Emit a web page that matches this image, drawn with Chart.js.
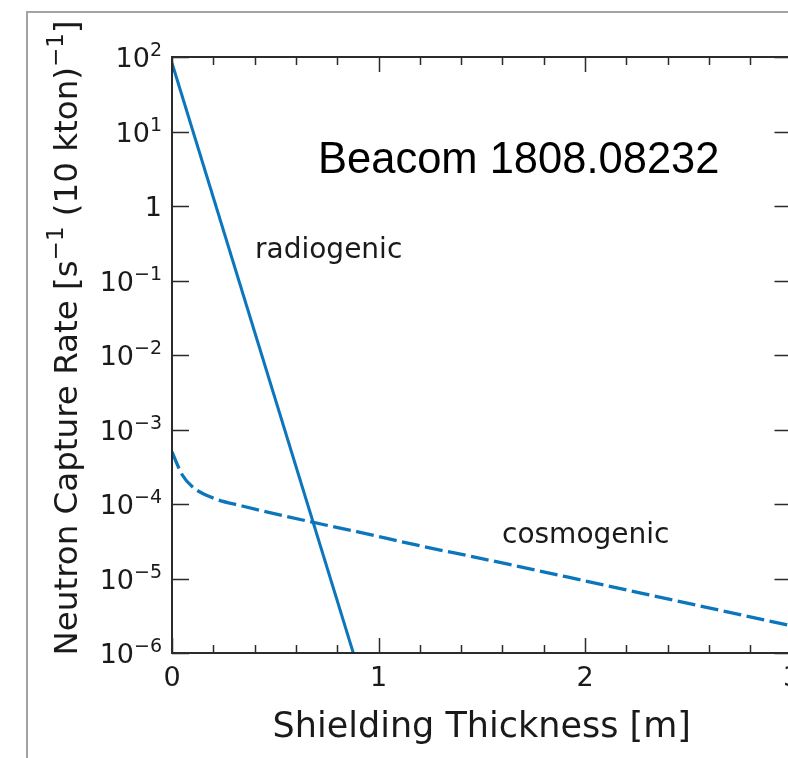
<!DOCTYPE html>
<html>
<head>
<meta charset="utf-8">
<script src="https://cdn.jsdelivr.net/npm/chart.js@4"></script>
<style>
  html, body { margin: 0; padding: 0; background: #fff; overflow: hidden; }
  #wrap { width: 788px; height: 758px; overflow: hidden; position: relative; }
  canvas { display: block; }
</style>
</head>
<body>
<div id="wrap"><canvas id="c" width="820" height="758"></canvas></div>
<script>
// ---- data ----
const radiogenicX = [0, 0.878];
const radiogenicY = [83, 1e-6];
const cosmogenicX = [0, 0.05, 0.10, 0.20, 0.34, 0.68, 0.90, 1.20, 1.50, 2.00, 2.50, 3.00];
const cosmogenicY = [5.0e-4, 2.45e-4, 1.69e-4, 1.20e-4, 9.4e-5, 5.7e-5, 4.23e-5, 2.75e-5, 1.85e-5, 9.3e-6, 4.63e-6, 2.32e-6];
const xTickValues = [0, 1, 2, 3];
const xTickLabels = ['0', '1', '2', '3'];
const xMinorTicks = [0.2, 0.4, 0.6, 0.8, 1.2, 1.4, 1.6, 1.8, 2.2, 2.4, 2.6, 2.8];
const yTickValues = [1e-6, 1e-5, 1e-4, 1e-3, 1e-2, 1e-1, 1, 1e1, 1e2];
const yTickMantissa = ['10', '10', '10', '10', '10', '10', '1', '10', '10'];
const yTickExponent = ['−6', '−5', '−4', '−3', '−2', '−1', '', '1', '2'];
const labelRadiogenic = 'radiogenic';
const labelCosmogenic = 'cosmogenic';
const labelNote = 'Beacom 1808.08232';
const xTitle = 'Shielding Thickness [m]';
// y title pieces: [text, isSuperscript]
const yTitleParts = [['Neutron Capture Rate [s', false], ['−1', true], [' (10 kton)', false], ['−1', true], [']', false]];

const lineColor = '#0c76bd';
const textColor = '#1a1a1a';
const toPts = (xs, ys) => xs.map((x, i) => ({ x: x, y: ys[i] }));

function drawRich(ctx, parts, size, supSize, supRaise, x, y, align) {
  const widths = parts.map(p => {
    ctx.font = (p[1] ? supSize : size) + 'px "DejaVu Sans"';
    return ctx.measureText(p[0]).width;
  });
  const total = widths.reduce((a, b) => a + b, 0);
  let cx = align === 'right' ? x - total : align === 'center' ? x - total / 2 : x;
  ctx.textAlign = 'left';
  ctx.textBaseline = 'alphabetic';
  parts.forEach((p, i) => {
    ctx.font = (p[1] ? supSize : size) + 'px "DejaVu Sans"';
    ctx.fillText(p[0], cx, p[1] ? y - supRaise : y);
    cx += widths[i];
  });
}

const decorPlugin = {
  id: 'decor',
  beforeDraw(chart) {
    const ctx = chart.ctx;
    ctx.save();
    ctx.strokeStyle = '#a3a3a3';
    ctx.lineWidth = 2;
    ctx.beginPath();
    ctx.moveTo(27, 800);
    ctx.lineTo(27, 12);
    ctx.lineTo(900, 12);
    ctx.stroke();
    ctx.restore();
  },
  afterDatasetsDraw(chart) {
    const ctx = chart.ctx;
    const xs = chart.scales.x, ys = chart.scales.y;
    const a = chart.chartArea;
    ctx.save();
    ctx.strokeStyle = '#2b2b2b';
    ctx.lineWidth = 1.5;
    ctx.beginPath();
    xTickValues.forEach(v => {
      const p = Math.round(xs.getPixelForValue(v)) + 0.5;
      ctx.moveTo(p, a.bottom); ctx.lineTo(p, a.bottom - 15);
      ctx.moveTo(p, a.top); ctx.lineTo(p, a.top + 15);
    });
    xMinorTicks.forEach(v => {
      const p = Math.round(xs.getPixelForValue(v)) + 0.5;
      ctx.moveTo(p, a.bottom); ctx.lineTo(p, a.bottom - 8);
      ctx.moveTo(p, a.top); ctx.lineTo(p, a.top + 8);
    });
    yTickValues.forEach(v => {
      const p = Math.round(ys.getPixelForValue(v)) + 0.5;
      ctx.moveTo(a.left, p); ctx.lineTo(a.left + 17, p);
      ctx.moveTo(a.right, p); ctx.lineTo(a.right - 17, p);
    });
    ctx.stroke();
    ctx.lineWidth = 2;
    ctx.strokeRect(a.left, a.top, a.right - a.left, a.bottom - a.top);

    // y tick labels (with superscript exponents)
    ctx.fillStyle = textColor;
    yTickValues.forEach((v, i) => {
      const p = ys.getPixelForValue(v);
      const parts = [[yTickMantissa[i], false]];
      if (yTickExponent[i]) parts.push([yTickExponent[i], true]);
      drawRich(ctx, parts, 27, 19, 11, a.left - 10, p + 10, 'right');
    });

    // y axis title (rotated)
    ctx.save();
    ctx.translate(77, (a.top + a.bottom) / 2 - 17);
    ctx.rotate(-Math.PI / 2);
    drawRich(ctx, yTitleParts, 32.5, 23, 14, 0, 0, 'center');
    ctx.restore();

    // annotations
    ctx.fillStyle = textColor;
    ctx.textBaseline = 'alphabetic';
    ctx.textAlign = 'left';
    ctx.font = '28px "DejaVu Sans"';
    ctx.fillText(labelRadiogenic, xs.getPixelForValue(0.402), ys.getPixelForValue(0.2));
    ctx.fillText(labelCosmogenic, xs.getPixelForValue(1.598), ys.getPixelForValue(3.0e-5));
    ctx.fillStyle = '#000';
    ctx.font = '43.5px "Liberation Sans"';
    ctx.fillText(labelNote, xs.getPixelForValue(0.707), ys.getPixelForValue(2.77));
    ctx.restore();
  }
};

new Chart(document.getElementById('c'), {
  type: 'line',
  data: {
    datasets: [
      { label: labelRadiogenic, data: toPts(radiogenicX, radiogenicY), borderColor: lineColor, borderWidth: 3, pointRadius: 0, tension: 0, fill: false },
      { label: labelCosmogenic, data: toPts(cosmogenicX, cosmogenicY), borderColor: lineColor, borderWidth: 3.3, borderDash: [18, 5.5], pointRadius: 0, cubicInterpolationMode: 'monotone', fill: false }
    ]
  },
  options: {
    responsive: false,
    animation: false,
    devicePixelRatio: 1,
    layout: { padding: { left: 0, top: 57, right: 28.5, bottom: 0 } },
    plugins: { legend: { display: false }, tooltip: { enabled: false } },
    scales: {
      x: {
        type: 'linear', min: 0, max: 3,
        grid: { display: false, drawTicks: false },
        border: { display: false },
        afterBuildTicks: s => { s.ticks = xTickValues.map(v => ({ value: v })); },
        afterFit: s => { s.height = 105; },
        ticks: {
          autoSkip: false, maxRotation: 0, padding: 10,
          color: textColor, font: { family: 'DejaVu Sans', size: 27 },
          callback: v => { const i = xTickValues.indexOf(v); return i >= 0 ? xTickLabels[i] : ''; }
        },
        title: { display: true, text: xTitle, color: textColor, font: { family: 'DejaVu Sans', size: 35 }, padding: { top: 0, bottom: 9 } }
      },
      y: {
        type: 'logarithmic', min: 1e-6, max: 1e2,
        grid: { display: false, drawTicks: false },
        border: { display: false },
        afterBuildTicks: s => { s.ticks = yTickValues.map(v => ({ value: v })); },
        afterFit: s => { s.width = 172; },
        ticks: { display: false },
        title: { display: false }
      }
    }
  },
  plugins: [decorPlugin]
});
</script>
</body>
</html>
